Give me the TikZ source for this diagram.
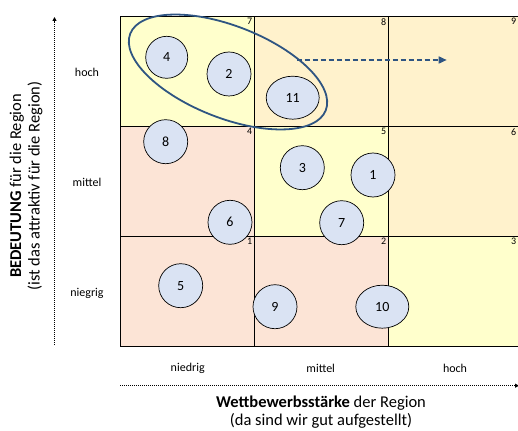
\documentclass[tikz,border=0pt]{standalone}
\usepackage{fontspec}
\setmainfont{Carlito}
\usepackage{tikz}
\usetikzlibrary{positioning,arrows.meta,shapes.geometric}
\definecolor{cellyellow}{HTML}{FFFFCC}
\definecolor{cellorange}{HTML}{FFF2CC}
\definecolor{cellpeach}{HTML}{FCE4D6}
\definecolor{dotfill}{HTML}{DAE3F3}
\definecolor{ringblue}{HTML}{2F5582}

\begin{document}
\begin{tikzpicture}[x=1pt,y=-1pt,node distance=110pt and 134pt,on grid,
  cell/.style={draw,line width=0.9pt,minimum width=134pt,minimum height=110pt,inner sep=0pt},
  cellno/.style={anchor=north east,inner sep=2pt,font=\fontsize{10}{12}\selectfont},
  region/.style={circle,draw,fill=dotfill,line width=0.7pt,minimum size=44pt,inner sep=0pt,
    font=\fontsize{14}{16}\selectfont},
  wideregion/.style={region,ellipse,minimum width=53pt,minimum height=43pt},
  lvl/.style={font=\fontsize{12}{14}\selectfont},
  axis/.style={line width=1pt,dash pattern=on 1pt off 1pt,-{Triangle[length=4pt,width=4pt]}},
  title/.style={align=center,font=\fontsize{16.5}{18.5}\selectfont}]
  \useasboundingbox (0,0) rectangle (518,430);

  % portfolio grid
  \node[cell,fill=cellyellow] (cell7) at (187,71.6) {};
  \node[cell,fill=cellorange] (cell8) [right = of cell7] {};
  \node[cell,fill=cellorange] (cell9) [right = of cell8] {};
  \node[cell,fill=cellpeach]  (cell4) [below = of cell7] {};
  \node[cell,fill=cellyellow] (cell5) [right = of cell4] {};
  \node[cell,fill=cellorange] (cell6) [right = of cell5] {};
  \node[cell,fill=cellpeach]  (cell1) [below = of cell4] {};
  \node[cell,fill=cellpeach]  (cell2) [right = of cell1] {};
  \node[cell,fill=cellyellow] (cell3) [right = of cell2] {};
  \foreach \n/\dx in {1/0,2/0,3/-4,4/0,5/0,6/-4,7/0,8/0,9/-4}
    \node[cellno,xshift=\dx pt] at (cell\n.north east) {\n};

  % regions
  \node[region,minimum size=42pt] (r4) at (166.7,57.3) {4};
  \node[region] (r2) at (229,74) {2};
  \node[wideregion] (r11) at (292.7,97.7) {11};
  \node[region] (r8) at (165.7,141.7) {8};
  \node[region] (r3) at (302.3,167.7) {3};
  \node[region] (r1) at (373,175) {1};
  \node[region] (r6) at (230,222.3) {6};
  \node[region] (r7) at (341.7,222.7) {7};
  \node[region] (r5) at (180.7,285.7) {5};
  \node[region] (r9) at (275,306.7) {9};
  \node[wideregion] (r10) at (382.3,306.7) {10};

  % group and shift
  \draw[ringblue,line width=1.8pt,rotate around={-21.4:(228,72)}]
    (228,72) ellipse [x radius=105pt,y radius=46pt];
  \coordinate (shiftfrom) at (296.7,60);
  \coordinate (shiftto) at (446.7,60);
  \draw[ringblue,line width=1.6pt,dash pattern=on 5pt off 3pt,
    -{Triangle[length=8pt,width=7pt]}] (shiftfrom) -- (shiftto);

  % axis labels
  \node[lvl] (yhigh) at (87,72) {hoch};
  \node[lvl] (ymid) at (87,182.7) {mittel};
  \node[lvl] (ylow) at (87,293) {niegrig};
  \node[lvl] (xlow) at (187.7,368) {niedrig};
  \node[lvl] (xmid) at (320.7,368) {mittel};
  \node[lvl] (xhigh) at (455,368) {hoch};

  % axes
  \coordinate (ybot) at (54.5,345);
  \coordinate (ytop) at (54.5,17);
  \coordinate (xleft) at (120,385.7);
  \coordinate (xright) at (519,385.7);
  \draw[axis] (ybot) -- (ytop);
  \draw[axis] (xleft) -- (xright);
  \node[title,rotate=90] (ytitle) at (26,186)
    {\textbf{BEDEUTUNG} für die Region\\(ist das attraktiv für die Region)};
  \node[title] (xtitle) at (321,412)
    {\textbf{Wettbewerbsstärke} der Region\\(da sind wir gut aufgestellt)};
\end{tikzpicture}
\end{document}
